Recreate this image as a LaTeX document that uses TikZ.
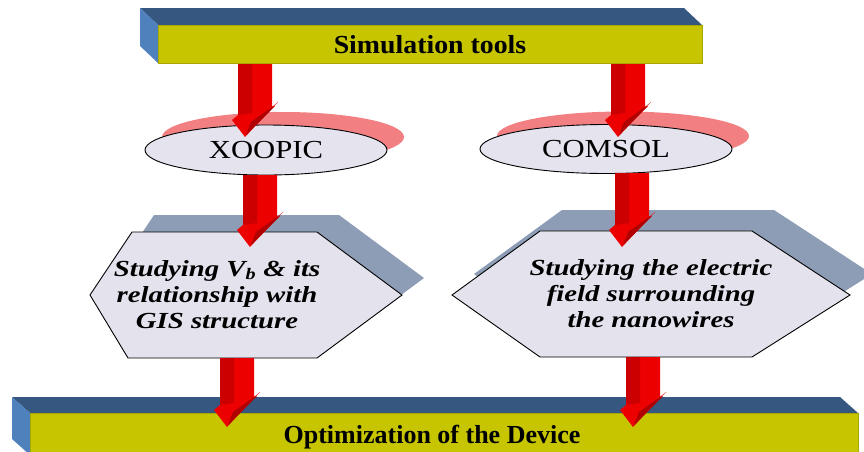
\documentclass[tikz,border=0pt]{standalone}
\usepackage{fontspec}
\setmainfont{Liberation Serif}
\usetikzlibrary{shapes.geometric}

\definecolor{barfront}{RGB}{198,197,0}
\definecolor{bartop}{RGB}{54,88,128}
\definecolor{barside}{RGB}{79,129,189}
\definecolor{ellfill}{RGB}{229,227,238}
\definecolor{ellshadow}{RGB}{242,128,130}
\definecolor{hexfill}{RGB}{228,226,237}
\definecolor{hexshadow}{RGB}{140,157,181}
\definecolor{arrowred}{RGB}{236,0,0}
\definecolor{arrowdark}{RGB}{204,0,0}
\definecolor{arrowdeep}{RGB}{176,0,0}

\tikzset{
  barfrontface/.style={fill=barfront, draw=barfront!85!black, line width=0.6pt},
  bartopface/.style={fill=bartop},
  barsideface/.style={fill=barside},
  bartext/.style={font=\fontsize{26}{30}\selectfont\bfseries, inner sep=0pt},
  toolnode/.style={ellipse, fill=ellfill, draw=black, line width=0.9pt, inner sep=0pt,
    font=\fontsize{26}{30}\selectfont},
  toolshadow/.style={ellipse, fill=ellshadow, inner sep=0pt},
  hexbody/.style={fill=hexfill, draw=black, line width=0.9pt},
  hexshade/.style={fill=hexshadow},
  hextext/.style={font=\fontsize{23}{26}\selectfont\bfseries\itshape, inner sep=0pt},
  % 3D block arrow, origin at its tip, #1 = distance from tail to tip
  pics/redarrow/.style={code={
    \fill[arrowred] (0,-#1) -- (34,-#1) -- (34,-30) -- (40,-35) -- (7,0)
      -- (-6,-17) -- (0,-22) -- cycle;
    \fill[arrowdark] (0,-#1) -- (14,-#1) -- (14,-24) -- (0,-22) -- cycle;
    \fill[arrowdeep] (13,-15) -- (34,-30) -- (37,-31) -- (8,-2) -- cycle;
  }},
}

\begin{document}
\begin{tikzpicture}[x=1pt,y=-1pt]
\useasboundingbox (0,0) rectangle (864,451);
\clip (0,0) rectangle (864,451);

% shadows of the tool ellipses
\node[toolshadow, minimum width=242pt, minimum height=50pt] (xoopicshade) at (283,137) {};
\node[toolshadow, minimum width=252pt, minimum height=49pt] (comsolshade) at (623,136) {};

% shadows of the study hexagons
\begin{scope}[shift={(22,-17)}]
  \fill[hexshade] (90,295) -- (132,232) -- (317,232) -- (402,295) -- (317,358) -- (128,358) -- cycle;
\end{scope}
\begin{scope}[shift={(22,-21)}]
  \fill[hexshade] (452,295) -- (540,231) -- (752,231) -- (850,295) -- (752,357) -- (540,357) -- cycle;
\end{scope}

% tools
\node[toolnode, minimum width=242pt, minimum height=50pt] (xoopic) at (266,150)
  {\scalebox{1.18}[1]{XOOPIC}};
\node[toolnode, minimum width=252pt, minimum height=49pt] (comsol) at (606,149)
  {\scalebox{1.18}[1]{COMSOL}};

% studies
\draw[hexbody] (90,295) -- (132,232) -- (317,232) -- (402,295) -- (317,358) -- (128,358) -- cycle;
\node[hextext] (vbstudy) at (217,297)
  {\scalebox{1.25}[1]{\begin{tabular}{@{}c@{}}Studying V\textsubscript{b} \& its\\relationship with\\GIS structure\end{tabular}}};
\draw[hexbody] (452,295) -- (540,231) -- (752,231) -- (850,295) -- (752,357) -- (540,357) -- cycle;
\node[hextext] (fieldstudy) at (651,296)
  {\scalebox{1.25}[1]{\begin{tabular}{@{}c@{}}Studying the electric\\field surrounding\\the nanowires\end{tabular}}};

% bottom bar
\fill[bartopface] (12,397) -- (840,397) -- (858,413) -- (30,413) -- cycle;
\fill[barsideface] (12,397) -- (30,413) -- (30,455) -- (12,439) -- cycle;
\filldraw[barfrontface] (30,413) rectangle (858,455);
\node[bartext] (device) at (432,437) {Optimization of the Device};

% flow arrows
\pic (toxoopic) at (238,137) {redarrow=77};
\pic (tovb) at (243,247) {redarrow=72};
\pic (vbout) at (220,427) {redarrow=69};
\pic (tocomsol) at (611,137) {redarrow=77};
\pic (tofield) at (615,247) {redarrow=74};
\pic (fieldout) at (626,427) {redarrow=70};

% top bar
\fill[bartopface] (140,8) -- (684,8) -- (702,25) -- (158,25) -- cycle;
\fill[barsideface] (140,8) -- (158,25) -- (158,63) -- (140,46) -- cycle;
\filldraw[barfrontface] (158,25) rectangle (702,63);
\node[bartext] (tools) at (430,45) {\scalebox{1.07}[1]{Simulation tools}};
\end{tikzpicture}
\end{document}
